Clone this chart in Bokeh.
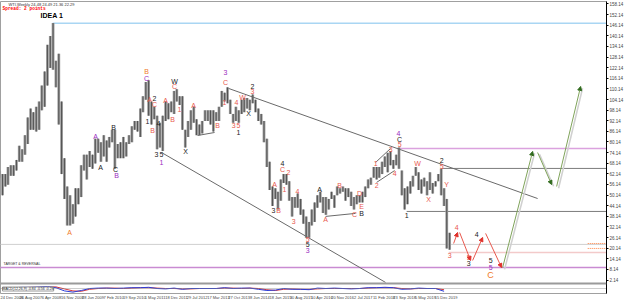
import pandas as pd
from bokeh.plotting import figure
from bokeh.models import (Range1d, FixedTicker, Span, Label, Arrow, NormalHead,
                          ColumnDataSource, CustomJSTickFormatter)
from bokeh.core.properties import value
from bokeh.embed import file_html
from bokeh.resources import INLINE

ORIGIN = pd.Timestamp("2006-12-24")


def week_index(d):
    return (pd.Timestamp(d) - ORIGIN).days / 7.0


# ---------------- data (monthly high / low of WTI) ----------
month_start = list(pd.date_range("2006-12-01", "2020-04-01", freq="MS"))
high_2006 = [64]
low_2006 = [60]
high_2007 = [62, 62, 66, 67, 67, 70, 78, 76, 84, 94, 99, 97]
low_2007 = [50, 55, 56, 61, 61, 64, 69, 69, 73, 79, 87, 87]
high_2008 = [100, 103, 112, 120, 135, 140, 147.3, 126, 130, 103, 71, 55]
low_2008 = [86, 87, 98, 100, 112, 122, 121, 111, 90, 62, 48, 33]
high_2009 = [50, 45, 54, 54, 67, 73, 73, 75, 73, 82, 82, 80]
low_2009 = [33, 34, 38, 45, 49, 64, 59, 66, 65, 68, 74, 69]
high_2010 = [84, 81, 83, 87, 87, 79, 80, 83, 80, 84, 89, 92]
low_2010 = [72, 69, 77, 80, 65, 71, 71, 71, 72, 79, 80, 87]
high_2011 = [92, 99, 106, 114, 115, 103, 100, 95, 91, 95, 103, 102]
low_2011 = [86, 83, 97, 104, 95, 90, 93, 76, 77, 75, 92, 93]
high_2012 = [103, 109, 110, 106, 106, 87, 92, 98, 100, 93, 90, 92]
low_2012 = [97, 96, 103, 101, 87, 77, 83, 87, 91, 84, 84, 85]
high_2013 = [98, 98, 98, 98, 97, 100, 109, 108, 111, 104, 96, 100]
low_2013 = [92, 92, 90, 86, 92, 92, 100, 103, 102, 96, 91, 92]
high_2014 = [98, 104, 105, 105, 104, 107, 104, 99, 96, 92, 82, 69]
low_2014 = [91, 96, 97, 99, 98, 102, 97, 92, 90, 80, 66, 53]
high_2015 = [55, 54, 52, 59, 62, 62, 58, 49, 49, 51, 48, 42]
low_2015 = [44, 48, 42, 47, 57, 56, 47, 38, 43, 43, 39, 34]
high_2016 = [38, 35, 42, 46, 50, 52, 49, 49, 48, 52, 50, 55]
low_2016 = [26, 26, 33, 35, 43, 46, 40, 39, 42, 48, 43, 50]
high_2017 = [54, 55, 54, 54, 52, 49, 50, 50, 52, 55, 59, 60]
low_2017 = [51, 52, 47, 49, 44, 42, 45, 46, 46, 49, 54, 56]
high_2018 = [66, 66, 66, 69, 72, 74, 75, 70, 73, 77, 64, 54]
low_2018 = [60, 59, 60, 62, 66, 63, 67, 65, 67, 65, 50, 42]
high_2019 = [55, 58, 61, 66, 63, 59, 60, 58, 63, 57, 58, 62]
low_2019 = [45, 51, 55, 61, 53, 51, 55, 50, 53, 51, 55, 58]
high_2020 = [65, 54, 48, 28.8]
low_2020 = [50, 44, 20, 19.3]

month_high = (high_2006 + high_2007 + high_2008 + high_2009 + high_2010 + high_2011
              + high_2012 + high_2013 + high_2014 + high_2015 + high_2016 + high_2017
              + high_2018 + high_2019 + high_2020)
month_low = (low_2006 + low_2007 + low_2008 + low_2009 + low_2010 + low_2011
             + low_2012 + low_2013 + low_2014 + low_2015 + low_2016 + low_2017
             + low_2018 + low_2019 + low_2020)

# indicator sub-window (quarterly)
quarter_start = list(pd.date_range("2007-01-01", "2020-01-01", freq="QS"))
macd_main = [0.1, 0.2, 0.3, 0.3, 0.4, 0.5, 0.2, -0.6, -0.9, -0.5, 0.0, 0.1,
             0.1, 0.0, 0.1, 0.2, 0.2, 0.3, 0.0, -0.1, 0.1, -0.2, 0.0, 0.0,
             0.0, 0.0, 0.2, 0.0, 0.1, 0.1, -0.2, -0.5, -0.4, 0.0, -0.2, -0.2,
             -0.3, 0.1, 0.0, 0.1, 0.0, -0.1, 0.0, 0.2, 0.2, 0.3, 0.2, -0.2,
             -0.1, 0.1, 0.0, 0.0, -0.7]
macd_signal = [0.0, 0.1, 0.2, 0.3, 0.3, 0.4, 0.4, -0.1, -0.6, -0.7, -0.2, 0.0,
               0.1, 0.1, 0.0, 0.1, 0.2, 0.2, 0.1, 0.0, 0.0, -0.1, -0.1, 0.0,
               0.0, 0.0, 0.1, 0.1, 0.0, 0.1, 0.0, -0.3, -0.5, -0.2, -0.1, -0.2,
               -0.2, -0.1, 0.0, 0.0, 0.0, 0.0, 0.0, 0.1, 0.2, 0.2, 0.2, 0.0,
               -0.1, 0.0, 0.0, 0.0, -0.3]

date_labels = ["24 Dec 2006", "26 Aug 2007", "6 Apr 2008", "16 Nov 2008", "28 Jun 2009",
               "7 Feb 2010", "19 Sep 2010", "1 May 2011", "18 Dec 2011", "29 Jul 2012",
               "17 Mar 2013", "27 Oct 2013", "8 Jun 2014", "18 Jan 2015", "30 Aug 2015",
               "10 Apr 2016", "20 Nov 2016", "2 Jul 2017", "11 Feb 2018", "23 Sep 2018",
               "5 May 2019", "15 Dec 2019"]
price_ticks = [158.14 - 6 * k for k in range(27)]

peak_date, peak_price = "2008-07-11", 147.27
last_close = 22.29
target_level = 9.25

# horizontal levels: (price, start week, colour, width, dash)
levels = [
    (peak_price, week_index(peak_date), "#a9d6f3", 1.5, "solid"),
    (76.5, 615.5, "#dba2de", 1.5, "solid"),
    (65.2, 682.0, "#7c7c7c", 1, "solid"),
    (40.9, 628.0, "#7c7c7c", 1, "solid"),
    (last_close, -5, "#cfcfcf", 1, "solid"),
    (17.7, 693.0, "#f3caca", 1.5, "solid"),
    (target_level, -5, "#c98bd2", 1.5, "solid"),
    (22.8, 908.0, "#ff8040", 1, "1 1"),
    (20.0, 908.0, "#ff8040", 1, "1 1"),
]

# trend lines (week, price) -> (week, price)
trend_lines = [
    (352.6, 110.4, 830.5, 48.2),
    (249.0, 74.2, 595.4, 0.8),
    (304.7, 83.8, 331.0, 85.5),
    (502.6, 38.1, 549.0, 39.8),
    (580.0, 68.6, 603.2, 76.5),
    (581.5, 57.3, 609.4, 64.0),
]

red_path = [(700.6, 22.8, 706.8, 29.0), (709.9, 29.0, 726.9, 13.2),
            (730.0, 13.2, 745.5, 26.2), (750.1, 28.5, 774.8, 9.2)]
green_path = [(776.4, 9.2, 822.8, 74.8), (830.5, 74.2, 852.2, 56.1),
              (859.9, 55.0, 897.0, 111.5)]

K, R, P, O = "#1a1a1a", "#e8584e", "#9a2cc0", "#f07a2a"
wave_labels = [
    (106.7, 29.0, "A", O), (225.8, 120.0, "B", O), (225.8, 116.0, "C", P),
    (146.9, 83.3, "A", P), (154.7, 65.7, "A", K), (174.8, 88.3, "B", K),
    (177.9, 64.6, "C", K), (179.4, 61.2, "B", P), (227.4, 91.7, "1", K),
    (244.4, 90.6, "4", K), (241.3, 73.1, "3", K), (249.0, 73.1, "5", K),
    (249.0, 68.6, "1", P), (286.1, 74.8, "X", K), (235.1, 86.6, "B", R),
    (266.0, 92.8, "B", R), (238.2, 101.3, "C", R), (276.8, 98.5, "1", R),
    (298.5, 100.7, "A", R), (269.1, 114.3, "W", K), (269.1, 111.5, "C", R),
    (230.4, 104.1, "A", R), (238.2, 104.6, "2", K), (255.2, 103.6, "A", R),
    (348.0, 119.4, "3", P), (348.0, 113.7, "C", R), (389.7, 111.5, "2", K),
    (389.7, 108.7, "3", R), (374.3, 105.3, "W", R), (335.6, 89.5, "B", R),
    (346.4, 102.4, "1", R), (365.0, 102.4, "4", R), (383.6, 96.2, "X", K),
    (360.4, 89.5, "3", R), (368.1, 89.5, "5", R), (368.1, 85.5, "1", K),
    (615.5, 84.9, "4", P), (617.1, 81.5, "C", K), (617.1, 78.7, "5", R),
    (603.2, 75.9, "3", R), (580.0, 68.0, "1", R), (581.5, 55.6, "2", R),
    (609.4, 62.3, "4", R), (644.9, 68.0, "W", R), (436.1, 68.0, "4", K),
    (436.1, 64.6, "C", R), (445.4, 62.9, "2", R), (423.8, 56.1, "A", R),
    (439.2, 53.3, "1", R), (459.3, 52.2, "4", R), (493.4, 53.3, "A", K),
    (524.3, 55.6, "B", R), (555.2, 51.0, "D", R), (422.2, 41.4, "3", K),
    (430.0, 41.4, "B", R), (453.2, 35.2, "3", R), (502.6, 36.3, "A", R),
    (547.5, 39.2, "C", R), (558.3, 39.7, "B", K), (558.3, 43.7, "E", R),
    (627.9, 38.6, "1", K), (474.8, 25.0, "5", R), (474.8, 22.2, "5", K),
    (474.8, 18.8, "3", P), (682.1, 69.7, "2", K), (682.1, 66.3, "5", R),
    (661.9, 47.6, "X", R), (689.8, 56.1, "Y", R), (705.2, 31.8, "4", R),
    (694.4, 16.0, "3", R), (723.8, 14.9, "5", R), (723.8, 11.5, "3", K),
    (736.2, 27.9, "4", K), (757.8, 13.2, "5", K), (757.8, 9.2, "5", P),
]
big_label = (757.8, 5.0, "C", O)

# ---------------- figure ----------------
FRAME_W, FRAME_H = 606, 292
X_END = 937.0
p = figure(frame_width=FRAME_W, frame_height=FRAME_H, output_backend="svg",
           toolbar_location=None, x_range=Range1d(0, X_END),
           y_range=Range1d(-5.45, 159.5), y_axis_location="right",
           min_border_left=0, min_border_top=1, min_border_bottom=8,
           min_border_right=19, background_fill_color="white",
           border_fill_color="white")
p.extra_y_ranges = {"ind": Range1d(-1.25, 71.75)}
p.grid.visible = False
p.outline_line_color = "#a0a0a0"

# axes
p.yaxis.ticker = FixedTicker(ticks=price_ticks)
p.yaxis.formatter = CustomJSTickFormatter(code="return tick.toFixed(2);")
p.yaxis.major_label_text_font_size = "4.5px"
p.yaxis.major_label_text_font = "Liberation Sans"
p.yaxis.major_label_standoff = 1
p.yaxis.major_tick_out = 2
p.yaxis.major_tick_in = 0
p.yaxis.minor_tick_line_color = None
p.yaxis.axis_line_color = "black"

LABEL_SHIFT = 12  # weeks: MT4 writes the date to the right of its tick
xt = [int(round(week_index(pd.to_datetime(d)) + LABEL_SHIFT)) for d in date_labels]
p.xaxis.ticker = FixedTicker(ticks=xt)
p.xaxis.major_label_overrides = {t: d for t, d in zip(xt, date_labels)}
p.xaxis.major_label_text_font_size = "4px"
p.xaxis.major_label_text_font = "Liberation Sans"
p.xaxis.major_label_standoff = 1
p.xaxis.major_tick_out = 0
p.xaxis.major_tick_in = 0
p.xaxis.minor_tick_line_color = None
p.xaxis.axis_line_color = None

# horizontal levels
for lvl, w0, col, lw, dash in levels:
    p.segment(x0=[w0], x1=[X_END], y0=[lvl], y1=[lvl], line_color=col,
              line_width=lw, line_dash=dash)

# price bars
bar_x = [week_index(m + pd.Timedelta(days=14)) for m in month_start]
src = ColumnDataSource(dict(x=bar_x, hi=month_high, lo=month_low))
p.vbar(x="x", top="hi", bottom="lo", width=4.3, fill_color="#9c9c9c",
       line_color=None, source=src)
p.segment(x0="x", x1="x", y0="lo", y1="hi", line_color="#4a4a4a",
          line_width=0.9, source=src)

# trend lines
for x0, y0, x1, y1 in trend_lines:
    p.segment(x0=[x0], x1=[x1], y0=[y0], y1=[y1], line_color="#6a6a6a", line_width=1)

# projected paths
for x0, y0, x1, y1 in green_path:
    p.segment(x0=[x0 + 3], x1=[x1 + 3], y0=[y0 - 1], y1=[y1 - 1],
              line_color="#d0d0d0", line_width=1.5)
for x0, y0, x1, y1 in green_path:
    p.add_layout(Arrow(x_start=x0, y_start=y0, x_end=x1, y_end=y1,
                       line_color="#7fa35a", line_width=1,
                       end=NormalHead(size=4, fill_color="#2f6a1c",
                                      line_color="#2f6a1c")))
for x0, y0, x1, y1 in red_path:
    p.add_layout(Arrow(x_start=x0, y_start=y0, x_end=x1, y_end=y1,
                       line_color="#e8584e", line_width=1,
                       end=NormalHead(size=4, fill_color="#e0302a",
                                      line_color="#e0302a")))

# wave labels
wsrc = ColumnDataSource(dict(x=[t[0] for t in wave_labels], y=[t[1] for t in wave_labels],
                             t=[t[2] for t in wave_labels], c=[t[3] for t in wave_labels]))
p.text(x="x", y="y", text="t", text_color="c", source=wsrc, text_align="center",
       text_baseline="middle", text_font=value("Liberation Sans"),
       text_font_size="7px")
p.text(x=[big_label[0]], y=[big_label[1]], text=[big_label[2]], text_color=big_label[3],
       text_align="center", text_baseline="middle", text_font=value("Liberation Sans"),
       text_font_size="9px")

# indicator sub-window
p.add_layout(Span(location=1.25, dimension="width", y_range_name="ind",
                  line_color="#9a9a9a", line_width=2))
p.add_layout(Span(location=0, dimension="width", y_range_name="ind",
                  line_color="#808080", line_width=0.8, line_dash="1 1"))
q_x = [week_index(q + pd.Timedelta(days=45)) for q in quarter_start]
p.line(q_x, macd_signal, y_range_name="ind", line_color="#d83a3a", line_width=1)
p.line(q_x, macd_main, y_range_name="ind", line_color="#2a3cd8", line_width=1)
p.add_layout(Label(x=2, y=2.5, x_units="screen", y_units="screen",
                   text="MACD(12,26,9) -0.84 -0.56 -0.28", text_font_size="3.5px",
                   text_color="#202020", text_baseline="bottom",
                   background_fill_color="white", border_line_color="#9a9a9a",
                   padding=0))

# texts
p.add_layout(Label(x=8, y=291.5, x_units="screen", y_units="screen",
                   text="WTI,Weekly  24.48 24.49 21.36 22.29", text_font_size="4px",
                   text_color="#303030", text_baseline="top"))
p.add_layout(Label(x=2, y=288, x_units="screen", y_units="screen",
                   text="Spread: 2 points", text_font_size="4.5px",
                   text_font="Liberation Mono", text_font_style="bold",
                   text_color="#ff0000", text_baseline="top"))
p.add_layout(Label(x=40, y=282, x_units="screen", y_units="screen", text="IDEA 1",
                   text_font_size="7px", text_font_style="bold",
                   text_font="Liberation Sans", text_color="black",
                   text_baseline="top"))
p.add_layout(Label(x=3, y=target_level, x_units="screen", text="TARGET & REVERSAL",
                   y_offset=1.5, text_font_size="3.5px", text_color="#303030",
                   text_baseline="bottom"))
p.add_layout(Label(x=X_END, y=last_close, text=f"{last_close:.2f}", x_offset=1,
                   text_font_size="4.5px", text_color="white", text_baseline="middle",
                   background_fill_color="black", padding=0))
p.add_layout(Label(x=X_END, y=target_level, text=f"{target_level:.2f}", x_offset=1,
                   text_font_size="4.5px", text_color="white", text_baseline="middle",
                   background_fill_color="#9b2fae", padding=0))

open("out.html", "w").write(file_html(p, INLINE))
